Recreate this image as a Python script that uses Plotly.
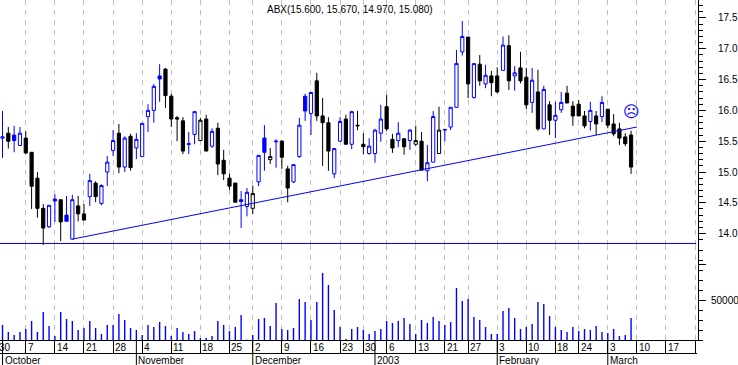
import plotly.graph_objects as go

opens = [15.55,15.63,15.60,15.43,15.55,15.32,14.90,14.41,14.11,14.56,14.55,14.30,13.91,14.45,14.32,14.60,14.82,14.49,15.00,15.35,
15.63,15.08,15.58,15.39,15.25,15.90,16.00,16.56,16.67,16.23,15.88,15.83,15.46,15.61,15.51,15.86,15.42,15.71,15.19,14.90,
14.82,14.55,14.44,14.41,14.84,15.55,15.20,15.49,15.50,15.05,14.84,15.25,16.23,15.95,16.48,15.91,15.80,14.97,15.50,15.86,
15.45,15.76,15.45,15.30,15.30,15.63,16.06,15.53,15.51,15.54,15.51,15.45,15.50,15.02,15.16,15.30,15.68,15.73,16.05,16.95,
17.19,16.21,16.75,16.43,16.56,16.56,16.65,17.05,16.56,16.69,16.54,16.13,16.30,15.70,16.09,15.84,16.01,16.28,16.07,16.10,
15.91,15.82,15.91,15.90,16.02,15.78,15.70,15.57,15.60]
highs = [15.99,15.73,15.75,15.73,15.66,15.32,15.00,14.48,14.46,14.64,14.55,14.61,14.63,14.61,14.48,14.97,14.85,14.80,15.26,15.68,
15.78,15.58,15.62,15.63,15.79,16.10,16.43,16.75,16.69,16.27,15.91,15.89,15.65,15.98,15.88,15.93,15.71,15.80,15.36,14.97,
14.82,14.69,14.74,14.78,15.27,15.76,15.39,15.53,15.52,15.10,15.12,15.88,16.27,16.29,16.61,16.20,15.89,15.38,15.89,15.93,
15.98,15.99,15.63,15.55,15.70,16.09,16.25,15.62,15.81,15.55,15.70,15.75,15.65,15.44,15.99,16.06,15.70,16.05,16.98,17.45,
17.19,16.76,16.90,16.74,16.64,16.70,17.20,17.22,16.72,16.95,16.69,16.69,16.66,16.40,16.15,16.14,16.30,16.40,16.15,16.17,
15.99,16.14,15.99,16.23,16.02,15.94,15.80,15.63,15.67]
lows = [15.23,15.38,15.32,15.43,15.29,14.40,14.26,13.81,14.09,14.19,13.88,14.20,13.91,14.20,14.22,14.45,14.51,14.46,14.77,15.26,
14.98,15.00,15.02,15.21,15.25,15.65,15.80,16.14,16.04,15.73,15.50,15.29,15.29,15.45,15.51,15.34,15.39,14.95,14.87,14.71,
14.51,14.09,14.28,14.32,14.77,15.02,15.13,15.07,15.05,14.51,14.82,15.23,15.83,15.60,15.83,15.10,15.02,14.90,15.49,15.45,
15.37,15.68,15.29,15.28,15.15,15.49,15.67,15.31,15.40,15.28,15.36,15.42,15.03,14.85,15.16,15.30,15.50,15.68,16.05,16.89,
16.20,16.19,16.40,16.36,16.23,16.28,16.65,16.33,16.32,16.44,16.02,15.96,15.67,15.70,15.60,15.55,15.96,16.12,15.75,15.91,
15.71,15.67,15.60,15.81,15.71,15.58,15.44,15.42,14.97]
closes = [15.57,15.50,15.51,15.63,15.31,14.77,14.41,14.09,14.46,14.53,14.19,14.20,14.55,14.32,14.22,14.86,14.60,14.78,15.16,15.51,
15.08,15.55,15.07,15.53,15.79,16.00,16.39,16.51,16.24,15.86,15.86,15.34,15.45,15.98,15.84,15.34,15.66,15.13,14.97,14.77,
14.51,14.52,14.67,14.65,15.27,15.32,15.25,15.50,15.24,14.74,15.12,15.76,15.99,16.29,15.91,15.80,15.34,15.38,15.82,15.45,
15.98,15.75,15.41,15.42,15.68,15.86,15.70,15.39,15.63,15.41,15.68,15.51,15.03,15.15,15.90,15.68,15.69,16.05,16.76,17.20,
16.43,16.76,16.48,16.57,16.45,16.30,17.06,16.48,16.61,16.48,16.09,16.49,15.70,16.34,15.84,15.92,16.13,16.12,15.91,15.91,
15.75,16.00,15.78,16.13,15.76,15.62,15.55,15.46,15.08]
volumes = [18900,10100,6300,10100,13900,23900,10100,35300,17600,5000,35300,26500,23900,12600,15100,23900,15100,7600,18900,18900,
32800,25200,15100,12600,6300,18900,16400,22700,17600,5000,15100,10100,7600,11300,2500,2500,5000,23900,18900,11300,
16400,31500,400,6300,26500,27700,17600,46600,13900,12600,15100,51700,47900,25200,47900,84400,69300,37800,16400,1300,
13900,16400,12600,7600,11300,13900,23900,21400,23900,27700,20200,7600,25200,21400,29000,23900,18900,22700,65500,49100,
51700,29000,25200,16400,7600,7600,36500,40300,27700,13900,16400,20200,47900,45400,30200,16400,12600,10100,16400,11300,
13900,12600,17600,10100,8800,13900,5000,6300,27700]

week_index = [-1,4,9,14,19,24,29,34,39,43,48,53,58,62,66,71,76,80,85,90,95,99,104,109,114,119]
week_labels = ["30","7","14","21","28","4","11","18","25","2","9","16","23","30","6","13","21","27","3","10","18","24","3","10","17",""]
month_index = [0,23,43,64,85,104]
month_labels = ["October","November","December","2003","February","March"]

trend_index = [12, 109]
trend_price = [13.91, 15.73]
support_index = [-0.43, 119.2]
support_price = [13.84, 13.84]

title_text = "ABX(15.600, 15.670, 14.970, 15.080)"
BLUE = "#0000ff"
PLOT_W, PLOT_H = 698, 340
X_RANGE = [-0.43, 119.5]

idx = list(range(len(closes)))
blue = [i for i in idx if i == 0 or closes[i] > closes[i - 1]]
black = [i for i in idx if i not in blue]

fig = go.Figure()

for name, members, col in (("up", blue, BLUE), ("down", black, "#000000")):
    fig.add_trace(go.Candlestick(
        x=members,
        open=[opens[i] for i in members],
        high=[highs[i] for i in members],
        low=[lows[i] for i in members],
        close=[closes[i] for i in members],
        name=name,
        whiskerwidth=0,
        increasing=dict(line=dict(color=col, width=1), fillcolor="#ffffff"),
        decreasing=dict(line=dict(color=col, width=1), fillcolor=col),
        xaxis="x", yaxis="y",
    ))

fig.add_trace(go.Scatter(x=trend_index, y=trend_price, mode="lines",
                         line=dict(color=BLUE, width=1), xaxis="x", yaxis="y"))
fig.add_trace(go.Scatter(x=support_index, y=support_price, mode="lines",
                         line=dict(color="#0000d0", width=1), xaxis="x", yaxis="y"))
# one-pixel volume sticks, dropped from each volume down to the baseline
fig.add_trace(go.Scatter(x=idx, y=volumes, mode="markers", marker=dict(size=1, opacity=0),
                         error_y=dict(type="data", symmetric=False, array=[0] * len(idx), arrayminus=volumes,
                                      width=0, thickness=1.4, color=BLUE),
                         xaxis="x", yaxis="y2"))

annotations = [dict(text=title_text, x=350 / PLOT_W, y=1 - 9 / PLOT_H, xref="paper", yref="paper",
                    showarrow=False, xanchor="center", yanchor="middle",
                    font=dict(family="Liberation Sans", size=10, color="#000000")),
               dict(text="\u2639", x=108, y=15.99, xref="x", yref="y", showarrow=False,
                    xanchor="center", yanchor="middle",
                    font=dict(family="DejaVu Sans", size=16, color=BLUE))]
span = X_RANGE[1] - X_RANGE[0]
for w, lab in zip(week_index, week_labels):
    if lab:
        annotations.append(dict(text=lab, x=(w - X_RANGE[0]) / span, y=-7.7 / PLOT_H, xref="paper", yref="paper",
                                showarrow=False, xanchor="left", yanchor="middle", xshift=1, borderpad=0,
                                font=dict(family="Liberation Sans", size=10, color="#000000")))
for m, lab in zip(month_index, month_labels):
    annotations.append(dict(text=lab, x=(m - X_RANGE[0]) / span, y=-20.5 / PLOT_H, xref="paper", yref="paper",
                            showarrow=False, xanchor="left", yanchor="middle", xshift=1, borderpad=0,
                            font=dict(family="Liberation Sans", size=10, color="#000000")))

shapes = [dict(type="line", xref="paper", yref="paper", x0=0, x1=697 / PLOT_W,
               y0=-13.5 / PLOT_H, y1=-13.5 / PLOT_H, line=dict(color="#000000", width=1))]
for m in month_index:
    shapes.append(dict(type="line", xref="x", yref="paper", x0=m, x1=m, y0=0, y1=-25 / PLOT_H,
                       line=dict(color="#000000", width=1)))

tickfont = dict(family="Liberation Sans", size=10, color="#000000")
fig.update_layout(
    width=738, height=365, autosize=False, showlegend=False,
    margin=dict(l=0, r=40, t=0, b=25, pad=0, autoexpand=False),
    paper_bgcolor="#ffffff", plot_bgcolor="#ffffff",
    boxgap=0.45, boxgroupgap=0,
    annotations=annotations, shapes=shapes,
    xaxis=dict(range=X_RANGE, rangeslider=dict(visible=False), tickmode="array",
               tickvals=week_index, ticktext=[""] * len(week_index), showticklabels=False,
               ticks="outside", ticklen=13, tickcolor="#000000", tickwidth=1,
               showgrid=True, gridcolor="#c0c0c0", griddash="5px,5px", gridwidth=1,
               showline=True, linecolor="#000000", linewidth=1, zeroline=False,
               anchor="y2", fixedrange=True, automargin=False),
    yaxis=dict(domain=[95 / PLOT_H, 1], range=[13.815, 17.792], side="right", anchor="x",
               tickmode="array", tickvals=[14.0, 14.5, 15.0, 15.5, 16.0, 16.5, 17.0, 17.5],
               ticktext=["14.0", "14.5", "15.0", "15.5", "16.0", "16.5", "17.0", "17.5"],
               ticks="outside", ticklen=7, tickcolor="#000000", tickfont=tickfont, ticklabelstandoff=10,
               minor=dict(tickmode="linear", tick0=0, dtick=0.1, ticks="outside", ticklen=4, tickcolor="#000000"),
               showgrid=False, zeroline=False, showline=True, linecolor="#000000", linewidth=1, fixedrange=True,
               automargin=False),
    yaxis2=dict(domain=[0, 95 / PLOT_H], range=[0, 119700], side="right", anchor="x",
                tickmode="array", tickvals=[50000, 95000], ticktext=["50000", ""],
                ticks="outside", ticklen=7, tickcolor="#000000", tickfont=tickfont, ticklabelstandoff=3,
                minor=dict(tickmode="linear", tick0=0, dtick=12500, ticks="outside", ticklen=4, tickcolor="#000000"),
                showgrid=False, zeroline=False, showline=True, linecolor="#000000", linewidth=1, fixedrange=True,
                automargin=False),
)

fig.write_html("out.html", config=dict(displayModeBar=False),
               post_script="document.body.style.margin='0';document.body.style.overflow='hidden';")
